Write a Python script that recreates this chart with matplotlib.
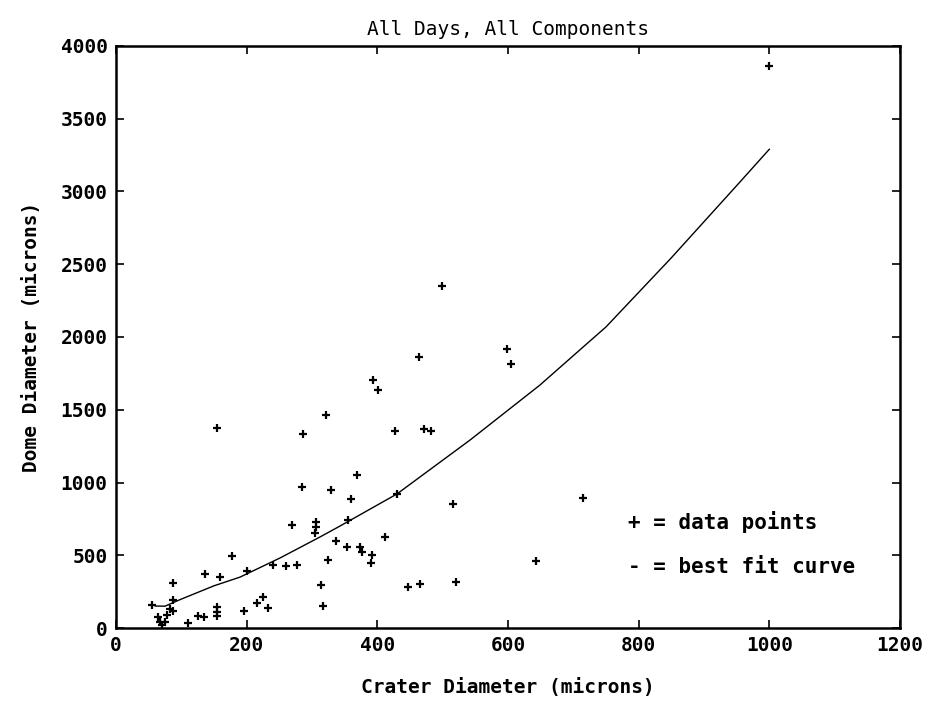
import numpy as np
import matplotlib
matplotlib.use('Agg')
from matplotlib import pyplot as plt

# Data points (crater diameter, dome diameter), microns
crater = [1000, 499, 464, 598, 605, 394, 401, 427, 471, 482,
          155, 286, 321, 285, 329, 269, 306, 306, 304, 337,
          325, 314, 317, 178, 87, 136, 159, 200, 240, 261,
          277, 55, 87, 82, 88, 64, 78, 67, 75, 110,
          126, 135, 155, 155, 155, 196, 216, 225, 233, 369,
          359, 430, 355, 516, 412, 354, 373, 377, 392, 390,
          447, 465, 520, 643, 715, 70]
dome = [3863, 2350, 1862, 1917, 1815, 1704, 1636, 1354, 1368, 1354,
        1375, 1333, 1464, 969, 948, 708, 728, 694, 653, 598,
        467, 296, 151, 495, 309, 371, 350, 392, 433, 426,
        433, 158, 192, 130, 120, 76, 89, 41, 41, 34,
        82, 76, 144, 110, 82, 117, 172, 213, 137, 1052,
        887, 920, 742, 852, 625, 557, 557, 522, 502, 447,
        282, 302, 316, 460, 893, 20]

# Best fit curve
fit_x = [60, 75, 98, 150, 190, 251, 312, 343, 430, 542, 649, 715, 750, 850, 951, 1000]
fit_y = [151, 150, 195, 290, 350, 481, 625, 701, 921, 1292, 1670, 1931, 2069, 2544, 3045, 3290]

x_ticks = [0, 200, 400, 600, 800, 1000, 1200]
y_ticks = [0, 500, 1000, 1500, 2000, 2500, 3000, 3500, 4000]

font = 'DejaVu Sans Mono'

fig = plt.figure(figsize=(9.33, 7.02), dpi=100)
ax1 = fig.add_axes([0.1243, 0.1054, 0.8403, 0.8291])

ax1.plot(fit_x, fit_y, c='black', lw=1.0)
ax1.plot(crater, dome, ls='none', marker='+', ms=6, mew=1.6, c='black')

ax1.set_xlim(0, 1200)
ax1.set_ylim(0, 4000)
ax1.set_xticks(x_ticks)
ax1.set_yticks(y_ticks)
ax1.set_xticklabels([str(t) for t in x_ticks], family=font, weight='bold', fontsize=14)
ax1.set_yticklabels([str(t) for t in y_ticks], family=font, weight='bold', fontsize=14)
ax1.tick_params(direction='in', length=6, width=1.2, top=True, right=True, pad=6)
for s in ax1.spines.values():
    s.set_linewidth(1.8)

ax1.set_title('All Days, All Components', family=font, fontsize=14, pad=8)
ax1.set_xlabel('Crater Diameter (microns)', family=font, weight='bold', fontsize=14, labelpad=16)
ax1.set_ylabel('Dome Diameter (microns)', family=font, weight='bold', fontsize=14, labelpad=14)

ax1.text(0.653, 0.182, '+ = data points', transform=ax1.transAxes,
         family=font, weight='bold', fontsize=15, va='center')
ax1.text(0.653, 0.105, '- = best fit curve', transform=ax1.transAxes,
         family=font, weight='bold', fontsize=15, va='center')

fig.savefig('out.png', dpi=100)
